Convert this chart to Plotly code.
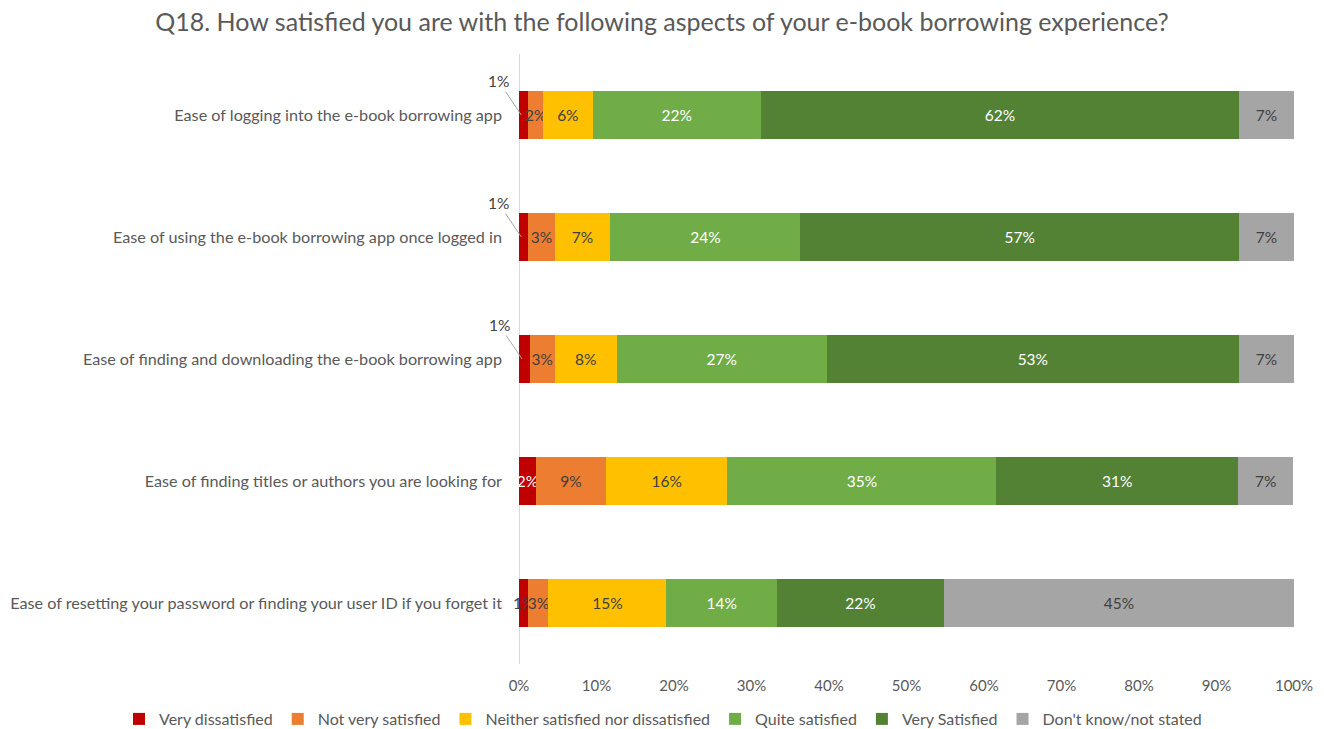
import plotly.graph_objects as go

categories = [
    "Ease of logging into the e-book borrowing app",
    "Ease of using the e-book borrowing app once logged in",
    "Ease of finding and downloading the e-book borrowing app",
    "Ease of finding titles or authors you are looking for",
    "Ease of resetting your password or finding your user ID if you forget it",
]
series_names = ["Very dissatisfied", "Not very satisfied", "Neither satisfied nor dissatisfied",
                "Quite satisfied", "Very Satisfied", "Don't know/not stated"]
very_dissatisfied = [1.2, 1.2, 1.4, 2.2, 1.2]
not_very_satisfied = [1.9, 3.4, 3.2, 9.0, 2.6]
neither = [6.4, 7.2, 8.0, 15.7, 15.2]
quite_satisfied = [21.7, 24.5, 27.1, 34.7, 14.3]
very_satisfied = [61.7, 56.6, 53.2, 31.2, 21.5]
dont_know = [7.1, 7.1, 7.1, 7.1, 45.2]
x_ticks = [0, 10, 20, 30, 40, 50, 60, 70, 80, 90, 100]

series_values = [very_dissatisfied, not_very_satisfied, neither, quite_satisfied, very_satisfied, dont_know]
colors = ["#C00000", "#ED7D31", "#FFC000", "#70AD47", "#548235", "#A5A5A5"]
dark = "#404040"
text_colors = [
    [dark, dark, dark, "white", dark],
    [dark] * 5,
    [dark] * 5,
    ["white"] * 5,
    ["white"] * 5,
    [dark] * 5,
]
callout_rows = [0, 1, 2]  # very dissatisfied labels drawn as callouts

FONT = "Lato, Open Sans, sans-serif"
fig = go.Figure()
for si, (name, vals, col) in enumerate(zip(series_names, series_values, colors)):
    texts = []
    for ci, v in enumerate(vals):
        if si == 0 and ci in callout_rows:
            texts.append("")
        else:
            texts.append(f"{round(v):d}%")
    fig.add_trace(go.Bar(
        name=name, y=categories, x=vals, orientation="h",
        marker=dict(color=col, line=dict(width=0)),
        text=texts, textposition="inside", insidetextanchor="middle", textangle=0,
        textfont=dict(color=text_colors[si], size=15.5),
        constraintext="none", cliponaxis=False,
    ))

for ci in callout_rows:
    v = very_dissatisfied[ci]
    fig.add_annotation(
        x=v / 2 - 0.3, y=categories[ci], xref="x", yref="y",
        text=f"{round(v):d}%", showarrow=True, arrowhead=0, arrowwidth=1,
        arrowcolor="#A6A6A6", ax=-23, ay=-34,
        font=dict(size=15.5, color=dark),
    )

fig.update_layout(
    barmode="stack", bargap=0.6,
    width=1324, height=729,
    paper_bgcolor="white", plot_bgcolor="white",
    margin=dict(l=519, r=30, t=54, b=65, autoexpand=False),
    font=dict(family=FONT, size=15, color="#595959"),
    title=dict(text="Q18. How satisfied you are with the following aspects of your e-book borrowing experience?",
               x=0.5, xanchor="center", xref="container", y=1 - 22 / 729, yref="container", yanchor="middle",
               font=dict(size=25, color="#595959")),
    uniformtext=dict(minsize=15, mode="show"),
    legend=dict(orientation="h", xref="paper", x=(119 - 519) / 775, xanchor="left",
                yref="paper", y=-(719 - 664) / 610, yanchor="middle",
                bgcolor="rgba(0,0,0,0)",
                font=dict(size=16, color="#595959"), traceorder="normal",
                itemwidth=30, tracegroupgap=0),
    showlegend=True,
)
fig.update_xaxes(range=[0, 100], tickvals=x_ticks, ticktext=[f"{t}%" for t in x_ticks],
                 showgrid=False, zeroline=True, zerolinecolor="#D9D9D9", zerolinewidth=1,
                 showline=False, ticks="", ticklabelstandoff=11, tickfont=dict(size=15, color="#595959"))
fig.update_yaxes(autorange="reversed", showgrid=False, showline=False, ticks="",
                 ticklabelstandoff=16, tickfont=dict(size=16.2, color="#595959"))

fig.write_html("out.html")
